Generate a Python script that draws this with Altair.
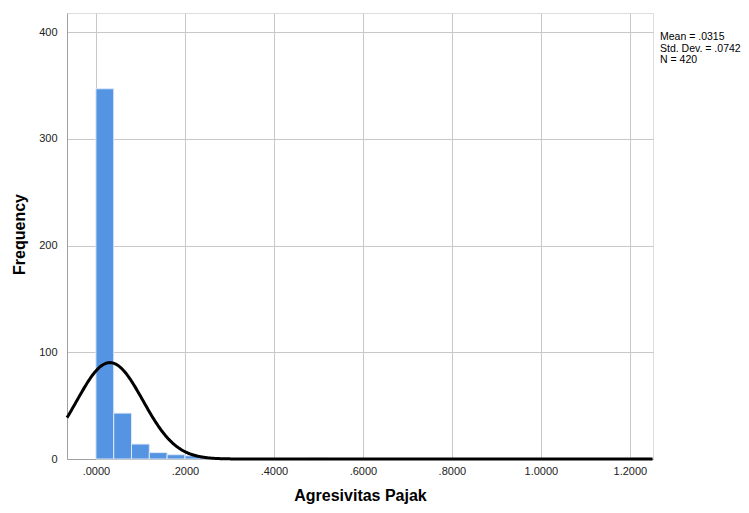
import altair as alt
import pandas as pd

# Histogram bins (start, end) and counts
bin_start = [0.00, 0.04, 0.08, 0.12, 0.16, 0.20, 0.24, 0.48, 1.20]
bin_end = [0.04, 0.08, 0.12, 0.16, 0.20, 0.24, 0.28, 0.52, 1.24]
counts = [347, 43, 14, 6, 4, 3, 1, 1, 1]

# Summary statistics shown on the chart
MEAN = 0.0315
SD = 0.0742
N = 420
BIN_W = 0.04

stats_lines = ["Mean = .0315", "Std. Dev. = .0742", "N = 420"]

x_ticks = [0.0, 0.2, 0.4, 0.6, 0.8, 1.0, 1.2]
y_ticks = [0, 100, 200, 300, 400]

X_DOMAIN = [-0.065, 1.252]
Y_DOMAIN = [0, 418]

W, H = 586, 446
FONT = "Liberation Sans"

bars_df = pd.DataFrame({"start": bin_start, "end": bin_end, "count": counts})

x_scale = alt.Scale(domain=X_DOMAIN, nice=False, zero=False)
y_scale = alt.Scale(domain=Y_DOMAIN, nice=False)

label_expr = ("datum.value < 1 ? substring(format(datum.value, '.4f'), 1) "
              ": format(datum.value, '.4f')")

x_axis = alt.Axis(
    values=x_ticks, labelExpr=label_expr, title="Agresivitas Pajak",
    grid=True, gridColor="#c8c8c8", gridWidth=1, ticks=False,
    domain=True, domainColor="#a0a0a0", labelPadding=6,
    labelFont=FONT, labelFontSize=11, labelColor="#222222",
    titleFont=FONT, titleFontSize=16, titleFontWeight="bold", titleColor="#000000",
    titleY=41, titleBaseline="alphabetic",
)
y_axis = alt.Axis(
    values=y_ticks, title="Frequency",
    grid=True, gridColor="#c8c8c8", gridWidth=1, ticks=False,
    domain=True, domainColor="#a0a0a0", labelPadding=10,
    labelFont=FONT, labelFontSize=11, labelColor="#222222",
    titleFont=FONT, titleFontSize=16, titleFontWeight="bold", titleColor="#000000",
    titleX=-48, titleY=221, titleBaseline="middle",
)

bars = alt.Chart(bars_df).mark_bar(
    color="#5594e3", stroke="#dfe9f7", strokeWidth=1
).encode(
    x=alt.X("start:Q", scale=x_scale, axis=x_axis),
    x2="end:Q",
    y=alt.Y("count:Q", scale=y_scale, axis=y_axis),
    y2=alt.datum(0),
)

curve = alt.Chart(alt.sequence(X_DOMAIN[0], X_DOMAIN[1] + 0.001, 0.002, as_="x")).transform_calculate(
    y=f"{N}*{BIN_W}*exp(-0.5*pow((datum.x-{MEAN})/{SD},2))/({SD}*sqrt(2*PI))"
).mark_line(color="#000000", strokeWidth=3).encode(
    x=alt.X("x:Q", scale=x_scale),
    y=alt.Y("y:Q", scale=y_scale),
)

stats_df = pd.DataFrame({"t": ["\n".join(stats_lines)]})
stats = alt.Chart(stats_df).mark_text(
    align="left", baseline="top", font=FONT, fontSize=10.5, lineHeight=11.5,
    lineBreak="\n", color="#000000",
).encode(
    x=alt.value(W + 7), y=alt.value(19), text="t:N",
)

chart = alt.layer(bars, curve, stats).properties(
    width=W, height=H,
    autosize=alt.AutoSizeParams(type="none"),
    padding={"left": 59, "top": 5, "right": 88, "bottom": 46},
).configure_view(stroke=None).configure(background="#ffffff")

chart.save("out.html", embed_options={"renderer": "svg", "actions": False})
